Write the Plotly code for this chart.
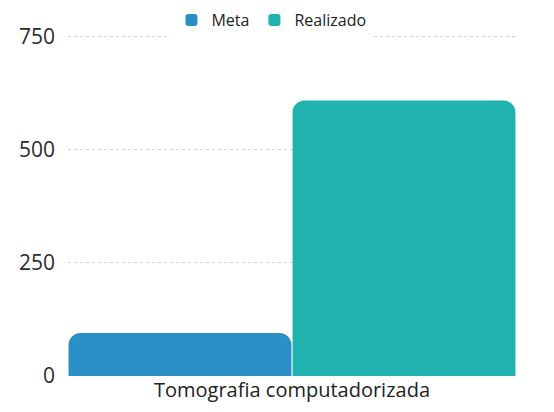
import plotly.graph_objects as go

categories = ["Tomografia computadorizada"]
meta_values = [95]
realizado_values = [608]
y_ticks = [0, 250, 500, 750]

fig = go.Figure()
fig.add_trace(go.Bar(name="Meta", x=categories, y=meta_values,
                     marker=dict(color="#2a8fc4", line=dict(width=0))))
fig.add_trace(go.Bar(name="Realizado", x=categories, y=realizado_values,
                     marker=dict(color="#1fb2af", line=dict(width=0))))

fig.update_layout(
    width=554, height=412,
    barmode="group", bargap=0, bargroupgap=0.005,
    barcornerradius=12,
    paper_bgcolor="white", plot_bgcolor="white",
    margin=dict(l=68, r=38, t=34, b=36, autoexpand=False),
    font=dict(family="Open Sans", color="#222"),
    legend=dict(orientation="h", x=0.49, xanchor="center", xref="container",
                y=1 - 20 / 412, yanchor="middle", yref="container",
                font=dict(size=16), itemwidth=30, traceorder="normal"),
    xaxis=dict(showgrid=False, tickfont=dict(size=20), ticks="", showline=False,
               automargin=False),
    yaxis=dict(range=[0, 755], tickvals=y_ticks, tickfont=dict(size=21, color="#2a2a2a"),
               showgrid=True, gridcolor="#d2d2d2", griddash="dot", gridwidth=1,
               zeroline=False, ticks="", ticklabelstandoff=12, automargin=False),
)

fig.write_html("out.html", config={"displayModeBar": False},
               post_script="document.body.style.margin='0';document.body.style.overflow='hidden';")
